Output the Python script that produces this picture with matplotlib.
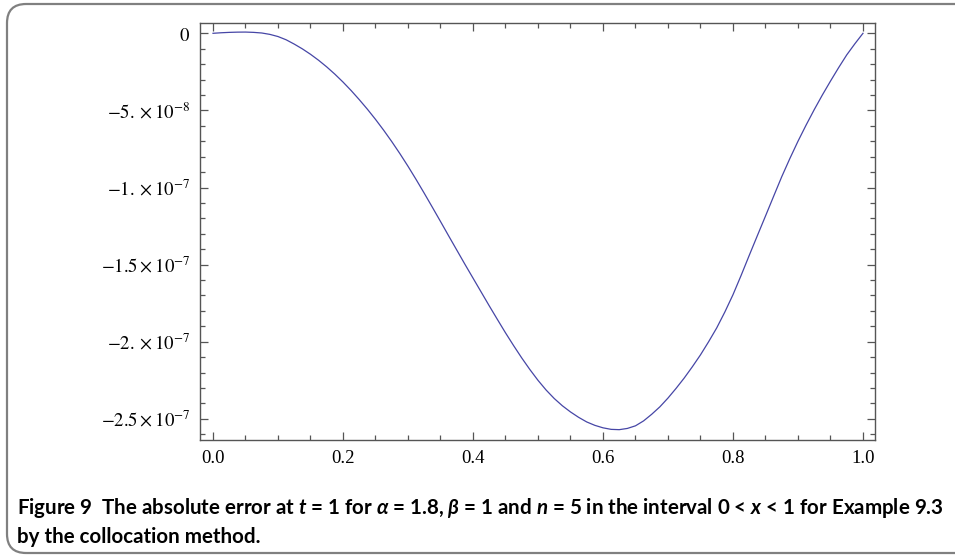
import matplotlib
matplotlib.use("Agg")
from matplotlib import pyplot as plt
from matplotlib.patches import FancyBboxPatch
from matplotlib.ticker import FixedLocator, MultipleLocator
import numpy as np

# values (error in units of 1e-8)
x_vals = [0.0, 0.0125, 0.025, 0.0375, 0.05, 0.0625, 0.075, 0.0875, 0.1, 0.1125,
          0.125, 0.1375, 0.15, 0.1625, 0.175, 0.1875, 0.2, 0.2125, 0.225, 0.2375,
          0.25, 0.2625, 0.275, 0.2875, 0.3, 0.3125, 0.325, 0.3375, 0.35, 0.3625,
          0.375, 0.3875, 0.4, 0.4125, 0.425, 0.4375, 0.45, 0.4625, 0.475, 0.4875,
          0.5, 0.5125, 0.525, 0.5375, 0.55, 0.5625, 0.575, 0.5875, 0.6, 0.6125,
          0.625, 0.6375, 0.65, 0.6625, 0.675, 0.6875, 0.7, 0.7125, 0.725, 0.7375,
          0.75, 0.7625, 0.775, 0.7875, 0.8, 0.8125, 0.825, 0.8375, 0.85, 0.8625,
          0.875, 0.8875, 0.9, 0.9125, 0.925, 0.9375, 0.95, 0.9625, 0.975, 0.9875,
          1.0]
err_e8 = [0.0, 0.035, 0.06, 0.075, 0.08, 0.06, 0.02, -0.07, -0.21, -0.42,
          -0.7, -1.01, -1.36, -1.75, -2.18, -2.65, -3.16, -3.71, -4.3, -4.92,
          -5.58, -6.28, -7.02, -7.8, -8.62, -9.48, -10.37, -11.28, -12.2, -13.13,
          -14.05, -14.97, -15.87, -16.77, -17.67, -18.55, -19.42, -20.25, -21.05, -21.8,
          -22.5, -23.13, -23.68, -24.15, -24.55, -24.9, -25.2, -25.42, -25.58, -25.68,
          -25.7, -25.62, -25.45, -25.13, -24.7, -24.22, -23.65, -23.02, -22.35, -21.62,
          -20.85, -20.0, -19.1, -18.07, -16.95, -15.7, -14.4, -13.12, -11.85, -10.57,
          -9.3, -8.12, -7.0, -5.95, -4.95, -4.0, -3.1, -2.23, -1.4, -0.68,
          0.0]

y_ticks = [0.0, -5e-8, -1e-7, -1.5e-7, -2e-7, -2.5e-7]
y_labels = [r"$0$", r"$-5.\times10^{-8}$", r"$-1.\times10^{-7}$",
            r"$-1.5\times10^{-7}$", r"$-2.\times10^{-7}$", r"$-2.5\times10^{-7}$"]
x_ticks = [0.0, 0.2, 0.4, 0.6, 0.8, 1.0]
x_labels = ["0.0", "0.2", "0.4", "0.6", "0.8", "1.0"]

caption_1 = (r"Figure 9  The absolute error at $t$ = 1 for $\alpha$ = 1.8, $\beta$ = 1 "
             r"and $n$ = 5 in the interval 0 < $x$ < 1 for Example 9.3")
caption_2 = "by the collocation method."

plt.rcParams["mathtext.fontset"] = "custom"
plt.rcParams["mathtext.rm"] = "Lato:bold"
plt.rcParams["mathtext.it"] = "Lato:bold:italic"
plt.rcParams["mathtext.bf"] = "Lato:bold"

W, H = 955, 557
fig = plt.figure(figsize=(W / 100, H / 100), dpi=100)

# rounded box round the figure (right edge runs off the image)
box = FancyBboxPatch((7 / W, 4 / H), 970 / W, 549 / H,
                     boxstyle="round,pad=0,rounding_size=0.02",
                     transform=fig.transFigure, facecolor="none",
                     edgecolor="#808080", linewidth=1.6, mutation_aspect=W / H)
fig.patches.append(box)

ax = fig.add_axes([200 / W, 1 - 440 / H, 675 / W, 417 / H])
x = np.array(x_vals)
y = np.array(err_e8) * 1e-8
ax.plot(x, y, color="#4646a6", linewidth=0.9)

ax.set_xlim(-0.02, 1.0185)
ax.set_ylim(-26.37e-8, 0.668e-8)

frame_col = "#555555"
for s in ax.spines.values():
    s.set_color(frame_col)
    s.set_linewidth(1.0)

ax.xaxis.set_major_locator(FixedLocator(x_ticks))
ax.xaxis.set_minor_locator(MultipleLocator(0.05))
ax.yaxis.set_major_locator(FixedLocator(y_ticks))
ax.yaxis.set_minor_locator(MultipleLocator(1e-8))
ax.set_xticklabels(x_labels)
ax.set_yticklabels(y_labels)
ax.tick_params(which="both", direction="in", top=True, right=True, color=frame_col, width=0.9)
ax.tick_params(which="major", length=6, pad=7)
ax.tick_params(which="minor", length=3.5)
for lab in ax.get_xticklabels():
    lab.set_fontfamily("Liberation Serif")
    lab.set_fontsize(13.5)
for lab in ax.get_yticklabels():
    lab.set_math_fontfamily("stix")
    lab.set_fontsize(13.5)

fig.text(17 / W, 1 - 508 / H, caption_1, fontsize=14.8, fontweight="bold",
         family="Lato", va="center", ha="left")
fig.text(17 / W, 1 - 537 / H, caption_2, fontsize=14.8, fontweight="bold",
         family="Lato", va="center", ha="left")

fig.savefig("out.png", dpi=100)
